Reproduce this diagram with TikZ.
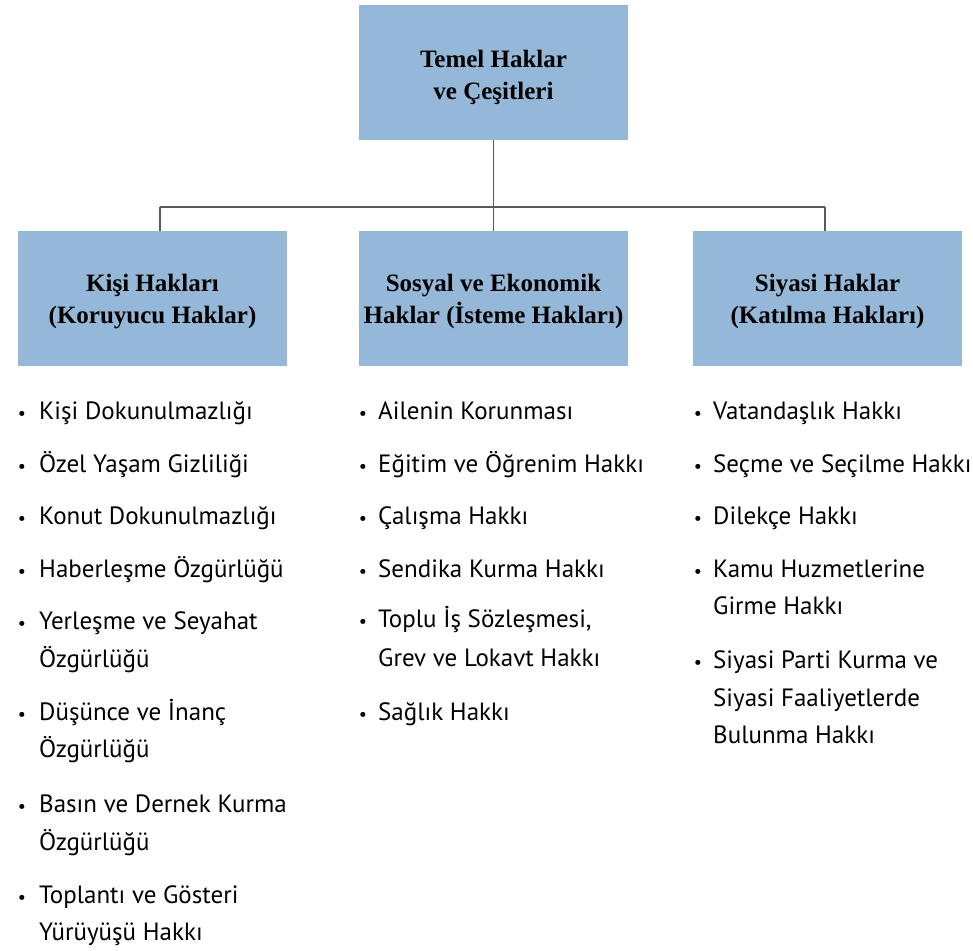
\documentclass[tikz,border=0pt]{standalone}
\usepackage{fontspec}
\setmainfont{Liberation Serif}
\newfontfamily\listfont{PT Sans}
\definecolor{boxblue}{HTML}{95B8D9}
\definecolor{linegray}{HTML}{5A5A5A}
\begin{document}
\begin{tikzpicture}[x=1pt,y=-1pt,
 hbox/.style={fill=boxblue, draw=none, minimum width=269pt, minimum height=135pt, inner sep=0pt},
 htext/.style={align=center, inner sep=0pt, font=\bfseries\fontsize{25}{32.5}\selectfont},
 conn/.style={draw=linegray, line width=1.2pt},
 bul/.style={anchor=base, font=\listfont\fontsize{18}{20}\selectfont, inner sep=0pt},
 itm/.style={anchor=base west, font=\listfont\fontsize{25}{28}\selectfont, inner sep=0pt}]
\useasboundingbox (0,0) rectangle (973,950);
\fill[white] (0,0) rectangle (973,950);
\node[hbox] (top) at (493.5,72.5) {};
\node[htext] (toptext) at ([yshift=-5pt]top.center) {Temel Haklar\\ve Çeşitleri};
\node[hbox] (left) at (152.5,298.5) {};
\node[htext] (lefttext) at ([yshift=-3pt]left.center) {Kişi Hakları\\(Koruyucu Haklar)};
\node[hbox] (mid) at (493.5,298.5) {};
\node[htext] (midtext) at ([yshift=-3pt]mid.center) {Sosyal ve Ekonomik\\Haklar (İsteme Hakları)};
\node[hbox] (right) at (827.5,298.5) {};
\node[htext] (righttext) at ([yshift=-3pt]right.center) {Siyasi Haklar\\(Katılma Hakları)};
\coordinate (j) at (493.5,207);
\coordinate (jl) at (160,207);
\coordinate (jr) at (825,207);
\draw[conn] (top.south) -- (j);
\draw[conn] (jl) -- (jr);
\draw[conn] (j) -- (mid.north);
\draw[conn] (jl) -- (jl |- left.north);
\draw[conn] (jr) -- (jr |- right.north);
% left column
\node[bul] (lb1) at (22,419) {•};
\node[itm] (l1) at (39,419) {Kişi Dokunulmazlığı};
\node[bul] (lb2) at (22,472) {•};
\node[itm] (l2) at (39,472) {Özel Yaşam Gizliliği};
\node[bul] (lb3) at (22,524) {•};
\node[itm] (l3) at (39,524) {Konut Dokunulmazlığı};
\node[bul] (lb4) at (22,577) {•};
\node[itm] (l4) at (39,577) {Haberleşme Özgürlüğü};
\node[bul] (lb5) at (22,629) {•};
\node[itm] (l5a) at (39,629) {Yerleşme ve Seyahat};
\node[itm] (l5b) at (39,667) {Özgürlüğü};
\node[bul] (lb6) at (22,720) {•};
\node[itm] (l6a) at (39,720) {Düşünce ve İnanç};
\node[itm] (l6b) at (39,757) {Özgürlüğü};
\node[bul] (lb7) at (22,812) {•};
\node[itm] (l7a) at (39,812) {Basın ve Dernek Kurma};
\node[itm] (l7b) at (39,850) {Özgürlüğü};
\node[bul] (lb8) at (22,903) {•};
\node[itm] (l8a) at (39,903) {Toplantı ve Gösteri};
\node[itm] (l8b) at (39,940) {Yürüyüşü Hakkı};
% middle column
\node[bul] (mb1) at (363,419) {•};
\node[itm] (m1) at (378,419) {Ailenin Korunması};
\node[bul] (mb2) at (363,472) {•};
\node[itm] (m2) at (378,472) {Eğitim ve Öğrenim Hakkı};
\node[bul] (mb3) at (363,524) {•};
\node[itm] (m3) at (378,524) {Çalışma Hakkı};
\node[bul] (mb4) at (363,577) {•};
\node[itm] (m4) at (378,577) {Sendika Kurma Hakkı};
\node[bul] (mb5) at (363,627) {•};
\node[itm] (m5a) at (378,627) {Toplu İş Sözleşmesi,};
\node[itm] (m5b) at (378,666) {Grev ve Lokavt Hakkı};
\node[bul] (mb6) at (363,720) {•};
\node[itm] (m6) at (378,720) {Sağlık Hakkı};
% right column
\node[bul] (rb1) at (698,419) {•};
\node[itm] (r1) at (713,419) {Vatandaşlık Hakkı};
\node[bul] (rb2) at (698,472) {•};
\node[itm] (r2) at (713,472) {Seçme ve Seçilme Hakkı};
\node[bul] (rb3) at (698,524) {•};
\node[itm] (r3) at (713,524) {Dilekçe Hakkı};
\node[bul] (rb4) at (698,577) {•};
\node[itm] (r4a) at (713,577) {Kamu Huzmetlerine};
\node[itm] (r4b) at (713,614) {Girme Hakkı};
\node[bul] (rb5) at (698,668) {•};
\node[itm] (r5a) at (713,668) {Siyasi Parti Kurma ve};
\node[itm] (r5b) at (713,706) {Siyasi Faaliyetlerde};
\node[itm] (r5c) at (713,743) {Bulunma Hakkı};
\end{tikzpicture}
\end{document}
